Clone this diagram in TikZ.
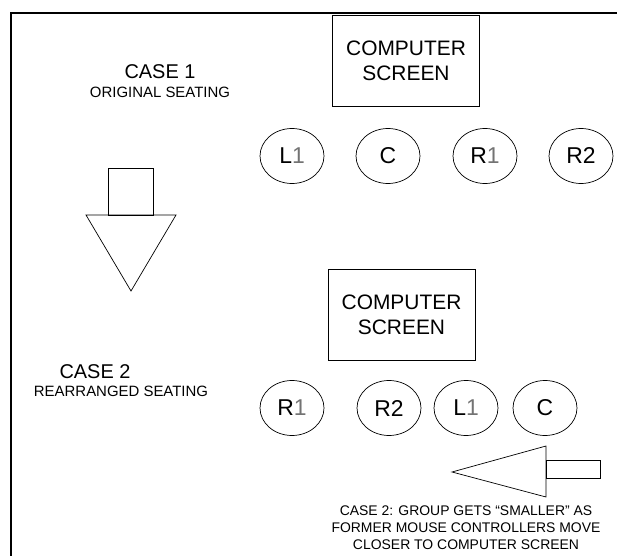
\documentclass[tikz,border=0pt]{standalone}
\usepackage{fontspec}
\setmainfont{Liberation Sans}
\usetikzlibrary{shapes.geometric}
\begin{document}
\begin{tikzpicture}[x=1bp,y=-1bp,
  screenbox/.style={draw, line width=0.8bp, minimum width=147bp, minimum height=91bp, inner sep=0pt, align=center, font=\fontsize{21}{25}\selectfont},
  seat/.style={draw, ellipse, line width=0.7bp, minimum width=64bp, minimum height=55bp, inner sep=0pt, font=\fontsize{23}{24}\selectfont},
  casetitle/.style={font=\fontsize{20}{22}\selectfont, inner sep=0pt},
  casesub/.style={font=\fontsize{15}{17}\selectfont, inner sep=0pt},
  note/.style={font=\fontsize{14}{17}\selectfont, align=center, inner sep=0pt},
  arrowpart/.style={draw, line width=0.7bp}
]
\useasboundingbox (0,0) rectangle (617,556);
% frame
\draw[line width=2.4bp] (618,13) -- (11,13) -- (11,557);

% case 1
\node[casetitle] (c1) at (160,72) {CASE 1};
\node[casesub] (c1s) at (160,92) {ORIGINAL SEATING};
\node[screenbox] (scr1) at (406,61) {COMPUTER\\SCREEN};
\node[seat] (l1a) at (292,156) {L\textcolor{black!55}{1}};
\node[seat] (ca) at (388,156) {C};
\node[seat] (r1a) at (485,156) {R\textcolor{black!55}{1}};
\node[seat] (r2a) at (581,156) {R2};

% down arrow
\draw[arrowpart] (108,215) rectangle (153,168);
\draw[arrowpart] (86,215) -- (176,215) -- (131,291) -- cycle;

% case 2
\node[casetitle] (c2) at (95,372) {CASE 2};
\node[casesub] (c2s) at (121,391) {REARRANGED SEATING};
\node[screenbox] (scr2) at (401.5,314.5) {COMPUTER\\SCREEN};
\node[seat] (r1b) at (292,408) {R\textcolor{black!55}{1}};
\node[seat] (r2b) at (389,408) {R2};
\node[seat] (l1b) at (466,408) {L\textcolor{black!55}{1}};
\node[seat] (cb) at (545,408) {C};

% left arrow
\draw[arrowpart] (546,460) rectangle (600,478);
\draw[arrowpart] (546,446) -- (546,497) -- (452,472) -- cycle;

\node[note] (txt) at (466,528) {CASE 2: GROUP GETS “SMALLER” AS\\FORMER MOUSE CONTROLLERS MOVE\\CLOSER TO COMPUTER SCREEN};
\end{tikzpicture}
\end{document}
